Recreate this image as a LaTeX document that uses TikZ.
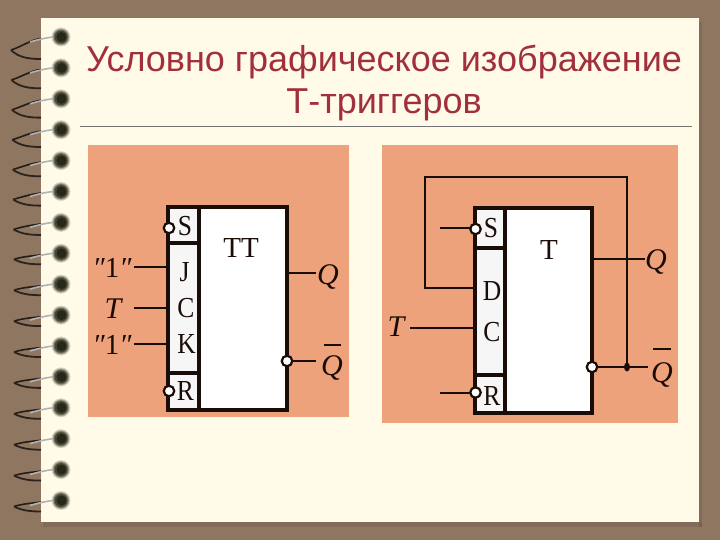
\documentclass[tikz,border=0pt]{standalone}
\usepackage{graphicx}
\usepackage{fontspec}
\setmainfont{Liberation Serif}
\newfontfamily\titlefont{Liberation Sans}
\newcommand{\narr}[1]{\scalebox{.88}[1]{#1}}
\definecolor{bgbrown}{HTML}{8F7661}
\definecolor{paper}{HTML}{FFFBE8}
\definecolor{panel}{HTML}{EDA27C}
\definecolor{titlered}{HTML}{A2303C}
\definecolor{cellc}{HTML}{F6F6F6}
\definecolor{ink}{HTML}{1A0C06}
\definecolor{holec}{HTML}{28281A}
\tikzset{
  titletext/.style={font=\titlefont\fontsize{36}{36}\selectfont,text=titlered,inner sep=0pt,anchor=center},
  panelbox/.style={fill=panel,draw=none},
  thickbox/.style={draw=ink,line width=4.5pt,line join=miter},
  letter/.style={font=\fontsize{29}{29}\selectfont,text=ink,inner sep=0pt,anchor=center},
  sig/.style={font=\itshape\fontsize{30}{30}\selectfont,text=ink,inner sep=0pt,anchor=center},
  wire/.style={draw=ink,line width=2.8pt},
  thinwire/.style={draw=ink,line width=2pt},
  bubble/.style={circle,draw=ink,line width=2.2pt,fill=white,minimum size=10.5pt,inner sep=0pt},
}
\begin{document}
\begin{tikzpicture}[x=1pt,y=-1pt]
\useasboundingbox (0,0) rectangle (720,540);
\fill[bgbrown] (0,0) rectangle (720,540);
\fill[black!50!bgbrown,opacity=.18] (43,522) rectangle (702,527);
\fill[black!50!bgbrown,opacity=.18] (699,22) rectangle (702,527);
\fill[paper] (41,18) rectangle (699,522);
% spiral rings
\foreach \i in {0,...,15}{
  \pgfmathsetmacro{\yy}{37+30.9*\i}
  \pgfmathsetmacro{\kk}{min(\i,7)/7}
  \pgfmathsetmacro{\tipx}{11+3*\kk}
  \pgfmathsetmacro{\tipy}{\yy+13-7*\kk}
  \pgfmathsetmacro{\lowy}{\yy+22-11*\kk}
  \fill[holec!18!paper] (61,\yy) circle (9.5);
  \fill[holec!40!paper] (61,\yy) circle (8.5);
  \fill[holec!65!paper] (61,\yy) circle (7.5);
  \fill[holec!85!paper] (61,\yy) circle (6.5);
  \fill[holec] (61.5,\yy) circle (5);
  \draw[line width=1.6pt,color=black!75!bgbrown] (\tipx,\tipy) .. controls (\tipx+10,\tipy-3) and (30,\yy+3) .. (41,\yy+1.5);
  \draw[line width=1.6pt,color=white!70!black] (53,\yy) .. controls (48,\yy+.5) and (40,\yy+2) .. (30,\yy+5);
  \draw[line width=1.8pt,color=black!70!bgbrown] (\tipx,\tipy) .. controls (\tipx+8,\lowy-1) and (30,\lowy) .. (41,\lowy);
}
% title
\node[titletext] (t1) at (384,62) {Условно графическое изображение};
\node[titletext] (t2) at (384,105) {Т-триггеров};
\draw[line width=.7pt,color=black!55] (80,126.5) -- (692,126.5);
% left panel
\fill[panelbox] (88,145) rectangle (349,417);
\fill[white] (168,207) rectangle (287,410);
\fill[cellc] (168,207) rectangle (199,410);
\draw[thickbox] (168,207) rectangle (287,410);
\draw[thickbox] (199,207) -- (199,410);
\draw[thickbox] (168,243) -- (199,243);
\draw[thickbox] (168,373) -- (199,373);
\node[letter] (ls) at (185,226) {\narr{S}};
\node[letter] (lj) at (184.5,272) {\narr{J}};
\node[letter] (lc) at (186,308) {\narr{C}};
\node[letter] (lk) at (186.5,344) {\narr{K}};
\node[letter] (lr) at (185.5,391) {\narr{R}};
\node[letter] (ltt) at (241,248) {TT};
\node[letter] (l1a) at (112,268) {{\itshape ″}1{\itshape ″}};
\node[sig] (lt) at (113,309) {T};
\node[letter] (l1b) at (112,345) {{\itshape ″}1{\itshape ″}};
\node[sig] (lq) at (328,277) {Q};
\node[sig] (lqb) at (332,368) {Q};
\draw[wire,line width=1.6pt] (324,345) -- (341,345);
\coordinate (lboxj) at (168,267);
\coordinate (lboxc) at (168,308);
\coordinate (lboxk) at (168,344);
\coordinate (lboxq) at (287,273);
\draw[wire] (134,267) -- (lboxj);
\draw[wire] (134,308) -- (lboxc);
\draw[wire] (134,344) -- (lboxk);
\draw[wire] (lboxq) -- (316,273);
\node[bubble] (lbs) at (169,228) {};
\node[bubble] (lbr) at (169,391) {};
\node[bubble] (lbq) at (287,361) {};
\draw[wire] (lbq) -- (316,361);
% right panel
\fill[panelbox] (382,145) rectangle (678,423);
\fill[white] (475,208) rectangle (592,413);
\fill[cellc] (475,208) rectangle (505,413);
\draw[thickbox] (475,208) rectangle (592,413);
\draw[thickbox] (505,208) -- (505,413);
\draw[thickbox] (475,248) -- (505,248);
\draw[thickbox] (475,375) -- (505,375);
\node[letter] (rs) at (491,228) {\narr{S}};
\node[letter] (rd) at (492,291) {\narr{D}};
\node[letter] (rc) at (492,332) {\narr{C}};
\node[letter] (rr) at (492,396) {\narr{R}};
\node[letter] (rtt) at (549,250) {T};
\node[sig] (rt) at (396,327) {T};
\node[sig] (rq) at (656,262) {Q};
\node[sig] (rqb) at (662,375) {Q};
\draw[thinwire,line width=1.6pt] (653,349) -- (671,349);
\coordinate (rboxd) at (475,288);
\coordinate (rboxc) at (475,328);
\coordinate (rboxq) at (592,259);
\coordinate (fb) at (627,367);
\draw[thinwire] (rboxq) -- (645,259);
\draw[thinwire] (410,328) -- (rboxc);
\draw[thinwire] (440,228.5) -- (475,228.5);
\draw[thinwire] (440,392.5) -- (475,392.5);
\draw[thinwire] (fb) -- (627,177) -- (424.5,177) -- (424.5,288) -- (rboxd);
\node[bubble] (rbs) at (475.5,229) {};
\node[bubble] (rbr) at (475.5,392.5) {};
\node[bubble] (rbq) at (592,367) {};
\draw[thinwire,line width=2.4pt] (rbq) -- (648,367);
\fill[ink] (fb) ellipse (3 and 4.5);
\end{tikzpicture}
\end{document}
